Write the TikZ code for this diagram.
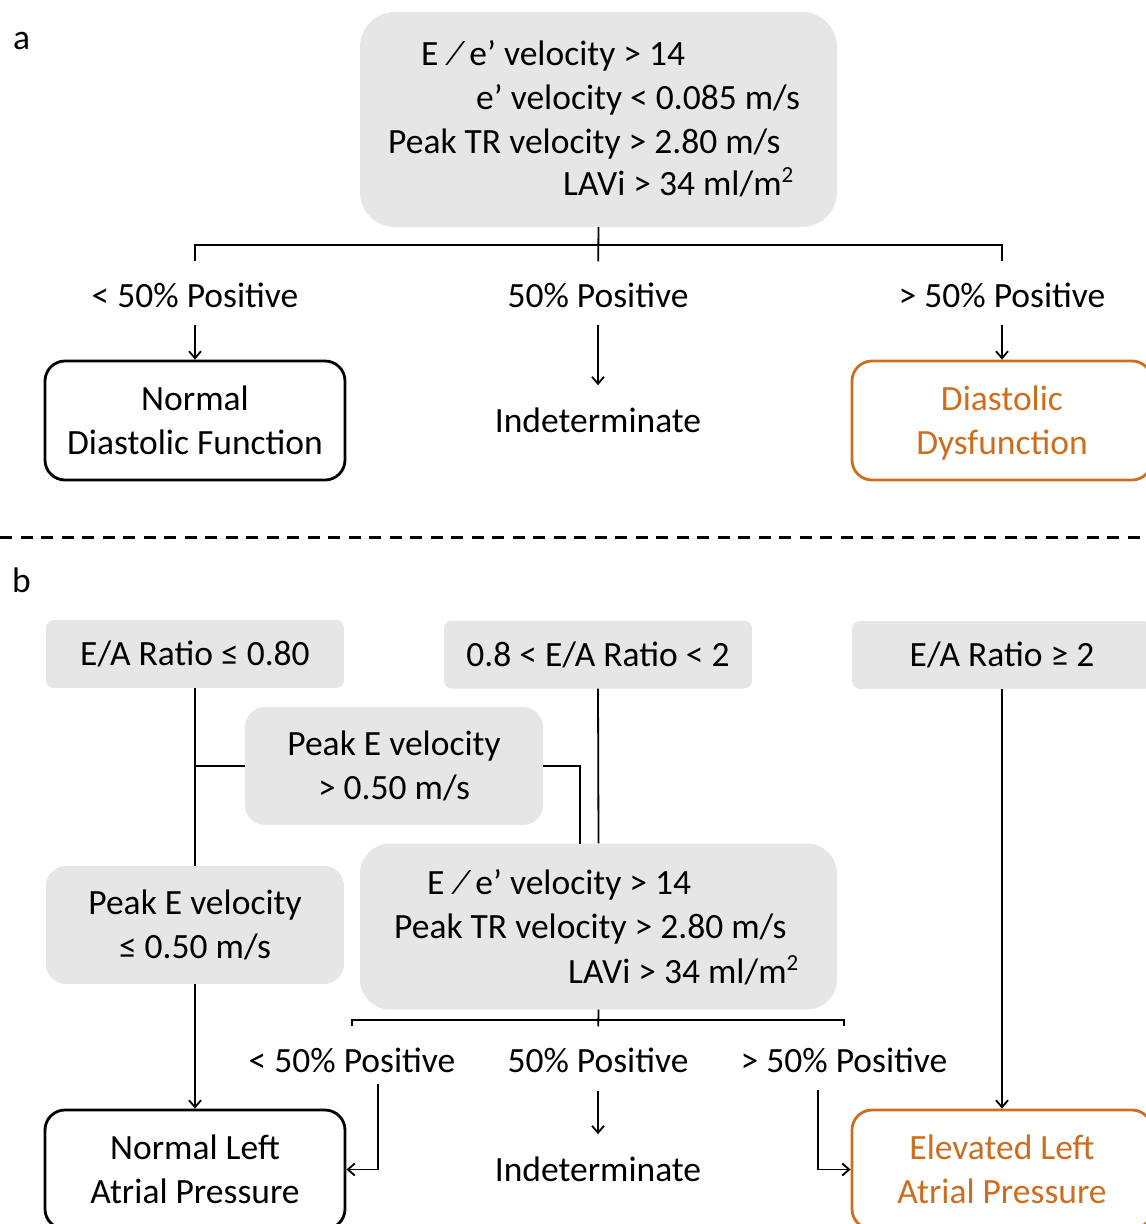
\documentclass[tikz,border=0pt]{standalone}
\usepackage{fontspec}
\setmainfont{Carlito}
\usetikzlibrary{arrows.meta}

\definecolor{boxgray}{HTML}{E6E6E6}
\definecolor{dysorange}{HTML}{CC6E1E}

% E over e' and the squared unit, as the slide sets them
\newcommand{\Eovere}{E\hspace{11pt}⁄\hspace{8pt}e’}
\newcommand{\sqm}{m\raisebox{0.36em}{\fontsize{23}{23}\selectfont 2}}

\tikzset{
  every node/.style={font=\fontsize{35.5}{44}\selectfont},
  graybox/.style={fill=boxgray, inner sep=0pt, align=center},
  eabox/.style={graybox, rounded corners=8pt, minimum height=68pt},
  pebox/.style={graybox, rounded corners=20pt, minimum width=298pt, minimum height=118pt},
  outbox/.style={draw, line width=2.8pt, rounded corners=20pt, minimum width=300pt, minimum height=119pt, inner sep=0pt, align=center},
  critline/.style={anchor=base west, inner sep=0pt},
  lbl/.style={anchor=base, inner sep=0pt},
  conn/.style={line width=1.8pt},
  arr/.style={conn, -{Straight Barb[length=7pt,width=12pt]}}
}

\begin{document}
\begin{tikzpicture}[x=1pt,y=-1pt]
\useasboundingbox (0,0) rectangle (1146,1224);

% ---------- panel a ----------
\node[critline] (lbl_a) at (13,49) {a};

\node[graybox, rounded corners=35pt, minimum width=477pt, minimum height=215pt] (crit_a) at (598.5,119.5) {};
\node[critline] (crit_a1) at (421,65) {\Eovere{} velocity > 14};
\node[critline] (crit_a2) at (476,109) {e’ velocity < 0.085 m/s};
\node[critline] (crit_a3) at (388,153) {Peak TR velocity > 2.80 m/s};
\node[critline] (crit_a4) at (563,195) {LAVi > 34 ml/\sqm};

\node[lbl] (lt_a) at (195,307) {< 50\% Positive};
\node[lbl] (eq_a) at (598,307) {50\% Positive};
\node[lbl] (gt_a) at (1002,307) {> 50\% Positive};

\coordinate (split_a) at (598,245);
\draw[conn, shorten <=21pt, shorten >=21pt] (lt_a.north) |- (split_a) -| (gt_a.north);
\draw[conn, shorten >=21pt] (crit_a.south) -- (eq_a.north);

\node[outbox] (ndf) at (195,420.5) {Normal\\Diastolic Function};
\node[lbl] (ind_a) at (598,432) {Indeterminate};
\node[outbox, draw=dysorange, text=dysorange] (dd) at (1002,420.5) {Diastolic\\\smash{Dysfunction}};

\draw[arr, shorten <=17.5pt] (lt_a.south) -- (ndf.north);
\draw[arr, shorten <=17.5pt, shorten >=22pt] (eq_a.south) -- (ind_a.north);
\draw[arr, shorten <=17.5pt] (gt_a.south) -- (dd.north);

% separator
\draw[line width=3pt, dash pattern=on 12pt off 8.5pt] (0,537) -- (1146,537);

% ---------- panel b ----------
\node[critline] (lbl_b) at (12,592) {b};

\node[eabox, minimum width=298pt] (ea_low) at (195,654) {E/A Ratio ≤ 0.80};
\node[eabox, minimum width=308pt] (ea_mid) at (598,654.5) {0.8 < E/A Ratio < 2};
\node[eabox, minimum width=300pt] (ea_high) at (1002,655) {E/A Ratio ≥ 2};

\node[pebox] (pe_high) at (394,766) {Peak E velocity\\> 0.50 m/s};
\node[pebox] (pe_low) at (195,925) {Peak E velocity\\≤ 0.50 m/s};

\node[graybox, rounded corners=30pt, minimum width=477pt, minimum height=166pt] (crit_b) at (598.5,926.5) {};
\node[critline] (crit_b1) at (427,894) {\Eovere{} velocity > 14};
\node[critline] (crit_b2) at (394,938) {Peak TR velocity > 2.80 m/s};
\node[critline] (crit_b3) at (568,983) {LAVi > 34 ml/\sqm};

\coordinate (join_b) at (580,844);
\draw[conn] (ea_low.south) -- (pe_low.north);
\draw[conn] (pe_high.west) -- (pe_high.west -| ea_low.south);
\draw[conn] (pe_high.east) -| (join_b);
\draw[conn] (ea_mid.south) -- (crit_b.north);

\node[lbl] (lt_b) at (352,1072) {< 50\% Positive};
\node[lbl] (eq_b) at (598,1072) {50\% Positive};
\node[lbl] (gt_b) at (844,1072) {> 50\% Positive};

\coordinate (split_b) at (598,1020);
\draw[conn, shorten <=21pt, shorten >=21pt] (lt_b.north) |- (split_b) -| (gt_b.north);
\draw[conn, shorten >=21pt] (crit_b.south) -- (eq_b.north);

\node[outbox] (nlap) at (195,1169.5) {Normal Left\\Atrial Pressure};
\node[lbl] (ind_b) at (598,1181) {Indeterminate};
\node[outbox, draw=dysorange, text=dysorange] (elap) at (1002,1169.5) {Elevated Left\\Atrial Pressure};

\coordinate (lt_b_drop) at (378,1084);
\coordinate (gt_b_drop) at (818,1090);
\draw[arr] (lt_b_drop) |- (nlap.east);
\draw[arr] (gt_b_drop) |- (elap.west);
\draw[arr, shorten <=18pt, shorten >=22pt] (eq_b.south) -- (ind_b.north);

\draw[arr] (pe_low.south) -- (nlap.north);
\draw[arr] (ea_high.south) -- (elap.north);
\end{tikzpicture}
\end{document}
